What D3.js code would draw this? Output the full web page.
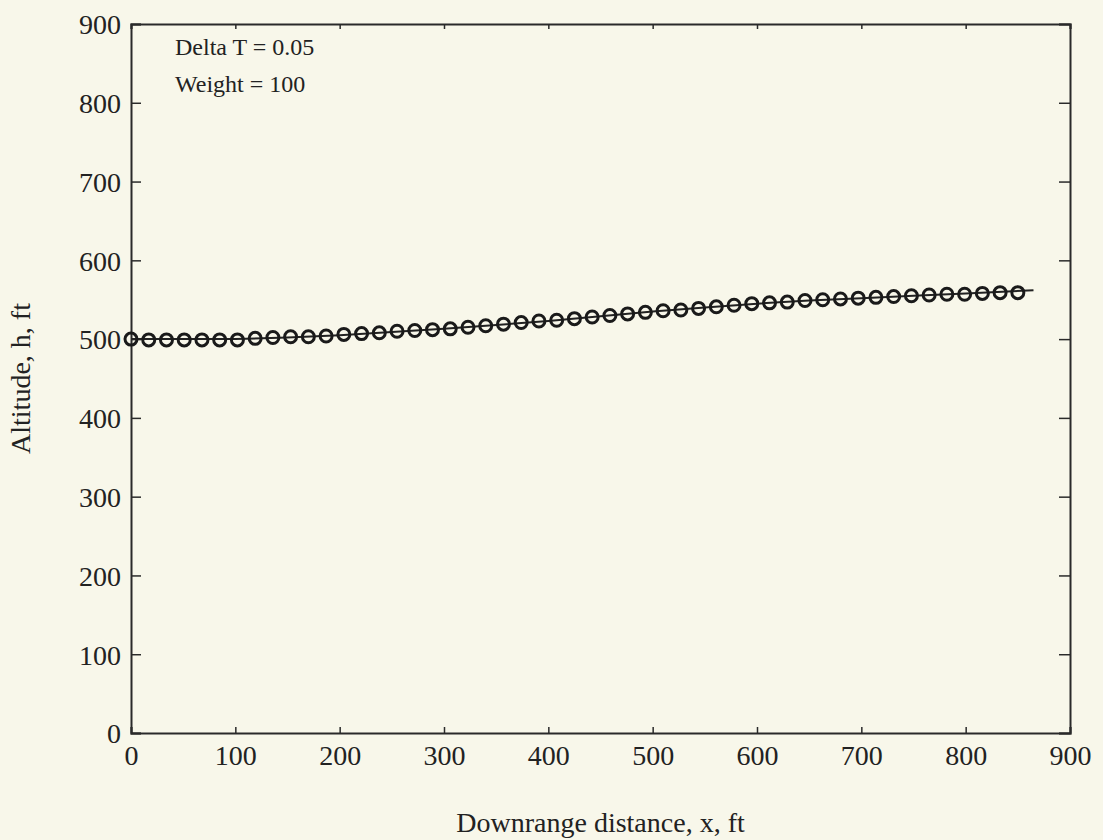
<!DOCTYPE html>
<html>
<head>
<meta charset="utf-8">
<script src="https://cdn.jsdelivr.net/npm/d3@7"></script>
<style>
  html, body { margin: 0; padding: 0; background: #f8f7ea; }
  svg { display: block; }
  text { font-family: "Liberation Serif", "Times New Roman", serif; fill: #222; }
</style>
</head>
<body>
<svg id="chart" width="1103" height="840"></svg>
<script>
// ---- data ----
const xTicks = [0, 100, 200, 300, 400, 500, 600, 700, 800, 900];
const yTicks = [0, 100, 200, 300, 400, 500, 600, 700, 800, 900];

// marker series (downrange distance x, altitude h)
const markerX = [0,17,34,51,68,85,102,119,136,153,170,187,204,221,238,255,272,289,306,323,340,357,374,391,408,425,442,459,476,493,510,527,544,561,578,595,612,629,646,663,680,697,714,731,748,765,782,799,816,833,850];
const markerH = [500,499,499,499,499,499,499,501,502,503,503,504,506,507,508,510,511,512,513,515,517,519,521,523,524,526,528,530,532,534,536,537,539,541,543,545,546,547,549,550,551,552,553,554,555,556,557,557,558,559,559];

// solid line series
const lineX = [0, 50, 100, 150, 200, 250, 300, 350, 400, 450, 500, 550, 600, 650, 700, 750, 800, 865];
const lineH = [500, 500, 500, 502, 505, 509, 513, 518, 523, 529, 535, 540, 545, 549, 552, 555, 558, 562];

const annotations = ["Delta T = 0.05", "Weight = 100"];
const xTitle = "Downrange distance, x, ft";
const yTitle = "Altitude, h, ft";

// ---- layout ----
const L = 131, R = 1070, T = 24, B = 733;
const svg = d3.select("#chart");
svg.append("rect").attr("width", 1103).attr("height", 840).attr("fill", "#f8f7ea");

const x = d3.scaleLinear().domain([0, 900]).range([L, R]);
const y = d3.scaleLinear().domain([0, 900]).range([B, T]);

const axisColor = "#2a2a2a";
const fs = 28;

// bottom axis (ticks inward)
const gb = svg.append("g").attr("transform", `translate(0,${B})`)
  .call(d3.axisBottom(x).tickValues(xTicks).tickSize(-6).tickPadding(12).tickFormat(d3.format("d")));
// top axis
const gt = svg.append("g").attr("transform", `translate(0,${T})`)
  .call(d3.axisTop(x).tickValues(xTicks).tickSize(-5).tickFormat(""));
// left axis
const gl = svg.append("g").attr("transform", `translate(${L},0)`)
  .call(d3.axisLeft(y).tickValues(yTicks).tickSize(-10).tickPadding(10).tickFormat(d3.format("d")));
// right axis
const gr = svg.append("g").attr("transform", `translate(${R},0)`)
  .call(d3.axisRight(y).tickValues(yTicks).tickSize(-11).tickFormat(""));

[gb, gt, gl, gr].forEach(g => {
  g.select(".domain").attr("stroke", axisColor).attr("stroke-width", 2);
  g.selectAll(".tick line").attr("stroke", axisColor).attr("stroke-width", 1.5);
  g.selectAll(".tick text").attr("font-size", fs).attr("fill", "#222")
    .style("font-family", "'Liberation Serif', 'Times New Roman', serif");
});
gb.selectAll(".tick text").attr("dy", "0.71em");
gl.selectAll(".tick text").attr("dy", "0.35em");

// line
const pts = lineX.map((d, i) => [d, lineH[i]]);
svg.append("path")
  .datum(pts)
  .attr("fill", "none")
  .attr("stroke", "#222")
  .attr("stroke-width", 2)
  .attr("d", d3.line().x(d => x(d[0])).y(d => y(d[1])));

// markers
const mk = markerX.map((d, i) => [d, markerH[i]]);
svg.append("g").selectAll("circle").data(mk).enter().append("circle")
  .attr("cx", d => x(d[0]))
  .attr("cy", d => y(d[1]))
  .attr("r", 6)
  .attr("fill", "none")
  .attr("stroke", "#1a1a1a")
  .attr("stroke-width", 3);

// annotations
svg.append("text").attr("x", 175).attr("y", 55).attr("font-size", 24).text(annotations[0]);
svg.append("text").attr("x", 175).attr("y", 92).attr("font-size", 24).text(annotations[1]);

// axis titles
svg.append("text").attr("x", (L + R) / 2).attr("y", 832).attr("text-anchor", "middle")
  .attr("font-size", fs).text(xTitle);
svg.append("text").attr("transform", `translate(30,${(T + B) / 2}) rotate(-90)`)
  .attr("text-anchor", "middle").attr("font-size", fs).text(yTitle);
</script>
</body>
</html>
